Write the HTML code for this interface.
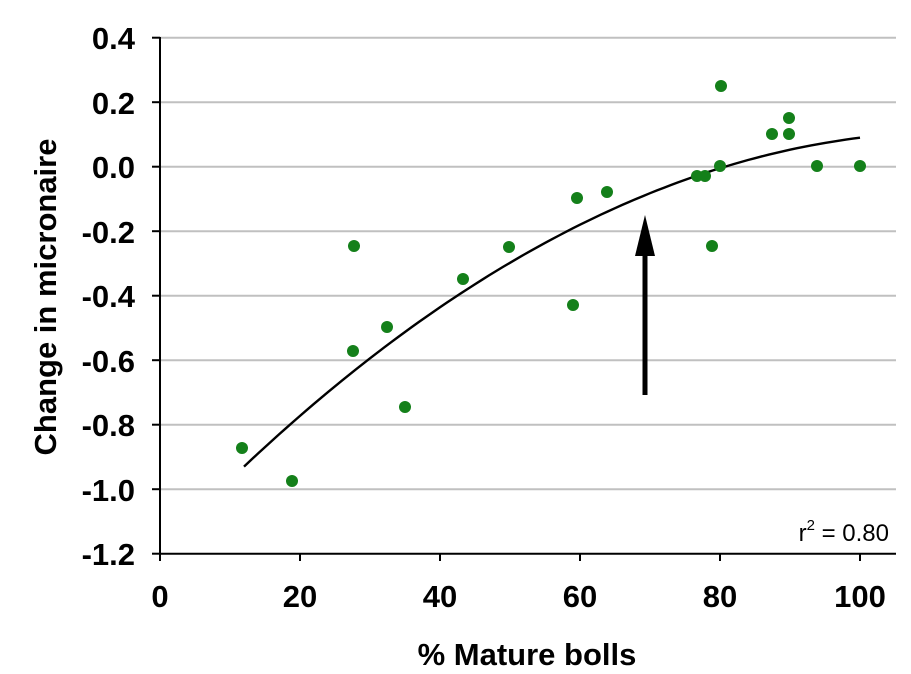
<!DOCTYPE html>
<html><head><style>body{margin:0;background:#fff}svg text{font-family:"Liberation Sans",Arial,sans-serif}</style></head>
<body>
<svg width="911" height="669" viewBox="0 0 911 669" xmlns="http://www.w3.org/2000/svg">
<g stroke="#c0c0c0" stroke-width="2">
<line x1="160" y1="37.7" x2="896" y2="37.7"/>
<line x1="160" y1="102.2" x2="896" y2="102.2"/>
<line x1="160" y1="166.7" x2="896" y2="166.7"/>
<line x1="160" y1="231.2" x2="896" y2="231.2"/>
<line x1="160" y1="295.7" x2="896" y2="295.7"/>
<line x1="160" y1="360.2" x2="896" y2="360.2"/>
<line x1="160" y1="424.7" x2="896" y2="424.7"/>
<line x1="160" y1="489.2" x2="896" y2="489.2"/>
</g>
<g stroke="#000" stroke-width="2" fill="none">
<line x1="160" y1="37" x2="160" y2="554"/>
<line x1="159" y1="553.7" x2="896" y2="553.7"/>
<line x1="152" y1="37.7" x2="160" y2="37.7"/><line x1="152" y1="102.2" x2="160" y2="102.2"/><line x1="152" y1="166.7" x2="160" y2="166.7"/><line x1="152" y1="231.2" x2="160" y2="231.2"/><line x1="152" y1="295.7" x2="160" y2="295.7"/><line x1="152" y1="360.2" x2="160" y2="360.2"/><line x1="152" y1="424.7" x2="160" y2="424.7"/><line x1="152" y1="489.2" x2="160" y2="489.2"/><line x1="152" y1="553.7" x2="160" y2="553.7"/>
<line x1="160" y1="553" x2="160" y2="561"/><line x1="300" y1="553" x2="300" y2="561"/><line x1="440" y1="553" x2="440" y2="561"/><line x1="580" y1="553" x2="580" y2="561"/><line x1="720" y1="553" x2="720" y2="561"/><line x1="860" y1="553" x2="860" y2="561"/>
</g>
<g font-size="31" font-weight="bold" text-anchor="end">
<text x="135" y="49">0.4</text><text x="135" y="114">0.2</text><text x="135" y="178">0.0</text><text x="135" y="243">-0.2</text><text x="135" y="307">-0.4</text><text x="135" y="372">-0.6</text><text x="135" y="436">-0.8</text><text x="135" y="501">-1.0</text><text x="135" y="565">-1.2</text>
</g>
<g font-size="31" font-weight="bold" text-anchor="middle">
<text x="160" y="607">0</text><text x="300" y="607">20</text><text x="440" y="607">40</text><text x="580" y="607">60</text><text x="720" y="607">80</text><text x="860" y="607">100</text>
<text x="527" y="665">% Mature bolls</text>
<text transform="translate(56,297) rotate(-90)">Change in micronaire</text>
</g>
<text x="889" y="541" font-size="24" text-anchor="end">r<tspan dy="-11" font-size="15">2</tspan><tspan dy="11"> = 0.80</tspan></text>
<path id="curve" fill="none" stroke="#000" stroke-width="2.4" d=""/>
<g fill="#14801a">
<circle cx="242" cy="448" r="6"/><circle cx="292" cy="481" r="6"/><circle cx="354" cy="246" r="6"/><circle cx="353" cy="351" r="6"/><circle cx="387" cy="327" r="6"/><circle cx="405" cy="407" r="6"/><circle cx="463" cy="279" r="6"/><circle cx="509" cy="247" r="6"/><circle cx="573" cy="305" r="6"/><circle cx="577" cy="198" r="6"/><circle cx="607" cy="192" r="6"/><circle cx="697" cy="176" r="6"/><circle cx="705" cy="176" r="6"/><circle cx="712" cy="246" r="6"/><circle cx="720" cy="166" r="6"/><circle cx="721" cy="86" r="6"/><circle cx="772" cy="134" r="6"/><circle cx="789" cy="118" r="6"/><circle cx="789" cy="134" r="6"/><circle cx="817" cy="166" r="6"/><circle cx="860" cy="166" r="6"/>
</g>
<line x1="645" y1="395" x2="645" y2="250" stroke="#000" stroke-width="5"/>
<polygon points="645,215 635,256 655,256" fill="#000"/>
<script>
var d="";for(var x=12;x<=100.01;x+=1){var y=-1.19+0.022888*x-0.0001009*x*x;var px=160+x*7,py=166.7-y*322.5;d+=(x==12?"M":"L")+px.toFixed(1)+","+py.toFixed(1);}
document.getElementById("curve").setAttribute("d",d);
</script>
</svg>
</body></html>
